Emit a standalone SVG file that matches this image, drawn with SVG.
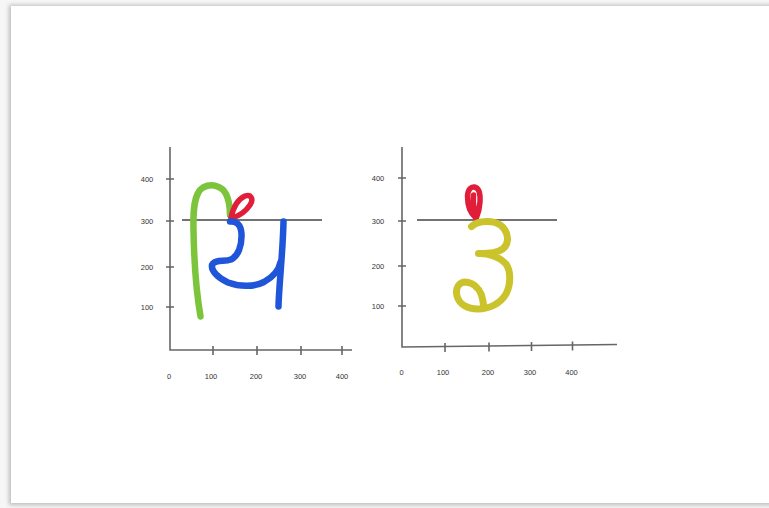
<svg xmlns="http://www.w3.org/2000/svg" width="769" height="508" viewBox="0 0 769 508">
<defs>
<filter id="sh" x="-5%" y="-5%" width="110%" height="110%"><feGaussianBlur stdDeviation="2"/></filter>
<style>
.ax{stroke:#666;stroke-width:1.6;fill:none}
.hl{stroke:#444;stroke-width:1.5;fill:none}
.lb{font-family:"Liberation Sans",Arial,sans-serif;font-size:7.5px;fill:#333;text-anchor:middle}
.st{fill:none;stroke-linecap:round;stroke-linejoin:round}
.g{stroke:#7cc43c;stroke-width:6.5}
.r{stroke:#e01e3a;stroke-width:5.5}
.b{stroke:#1f55d8;stroke-width:6.5}
.y{stroke:#cbc32c;stroke-width:7}
</style>
</defs>
<rect width="769" height="508" fill="#f6f6f6"/>
<rect x="9" y="5" width="770" height="500" fill="#bbb" filter="url(#sh)"/>
<rect x="11" y="6" width="770" height="497" fill="#fff"/>

<g id="chart-left">
<path class="ax" d="M170,147 V350 H352"/>
<path class="ax" d="M166,179 H174 M166,221 H174 M166,267 H174 M166,307 H174 M213,346 V355 M257,346 V355 M301,346 V355 M342,346 V355"/>
<text class="lb" x="147" y="182">400</text>
<text class="lb" x="147" y="224">300</text>
<text class="lb" x="147" y="270">200</text>
<text class="lb" x="147" y="310">100</text>
<text class="lb" x="169" y="379">0</text>
<text class="lb" x="211" y="379">100</text>
<text class="lb" x="256" y="379">200</text>
<text class="lb" x="300" y="379">300</text>
<text class="lb" x="342" y="379">400</text>
<path class="hl" d="M182,220 H322"/>
</g>
<g id="glyph-left">
<path class="st g" d="M200.5,316.5 C197,296 194,260 193.5,230 C193,210 194,193 203,187.5 C212,183 222,186 226,194 C229,200 230,208 230,215"/>
<path class="st r" d="M231,218 C233,208 238,199 245,196 C251,194 254,199 250,205 C246,211 239,216 232,218"/>
<path class="st b" d="M230,221.5 C236,221 241,224 241.5,234 C242,246 238,256 231,259.5 C224,262 215,259 212,265 C211,271 218,278 228,282.5 C240,287 254,287 264,282 C273,277 279,270 280.5,262"/>
<path class="st b" d="M283.5,221.5 C283,250 279,285 278.5,306.5"/>
</g>

<g id="chart-right">
<path class="ax" d="M402,147 V347 L617,344.5"/>
<path class="ax" d="M398,178 H406 M398,221 H406 M398,266 H406 M398,306 H406 M445,343 V352 M489,342.5 V351.5 M531.5,342 V351 M572.5,341.5 V350.5"/>
<text class="lb" x="378" y="181">400</text>
<text class="lb" x="378" y="224">300</text>
<text class="lb" x="378" y="269">200</text>
<text class="lb" x="378" y="309">100</text>
<text class="lb" x="401.5" y="375">0</text>
<text class="lb" x="443" y="375">100</text>
<text class="lb" x="488" y="375">200</text>
<text class="lb" x="530" y="375">300</text>
<text class="lb" x="571.5" y="375">400</text>
<path class="hl" d="M417,220 H557"/>
</g>
<g id="glyph-right">
<path class="st r" d="M475.5,217.5 C470,213 467.5,204 467.5,196 C468,189 471,186.5 474.5,187 C479,188 480.5,194 480,202 C479.5,209 478,214 476.5,217.5 M473.5,195 C473,203 474,210 475.5,214"/>
<path class="st y" d="M471.5,226.5 C476,222 486,220 495,222.5 C503,225 508,232 507.5,240 C507,247 501,251 494,252.5 C488,253.5 482,253.5 478.5,253.5 C488,253 500,257 506,264 C511,271 511,284 506,294 C500,304 489,309 478,309 C467,309 459,304 457,296 C455,288 459,282 465.5,282 C473,282.5 479,288 481.5,295 C483,300 483.5,304 483.5,306.5"/>
</g>
</svg>
